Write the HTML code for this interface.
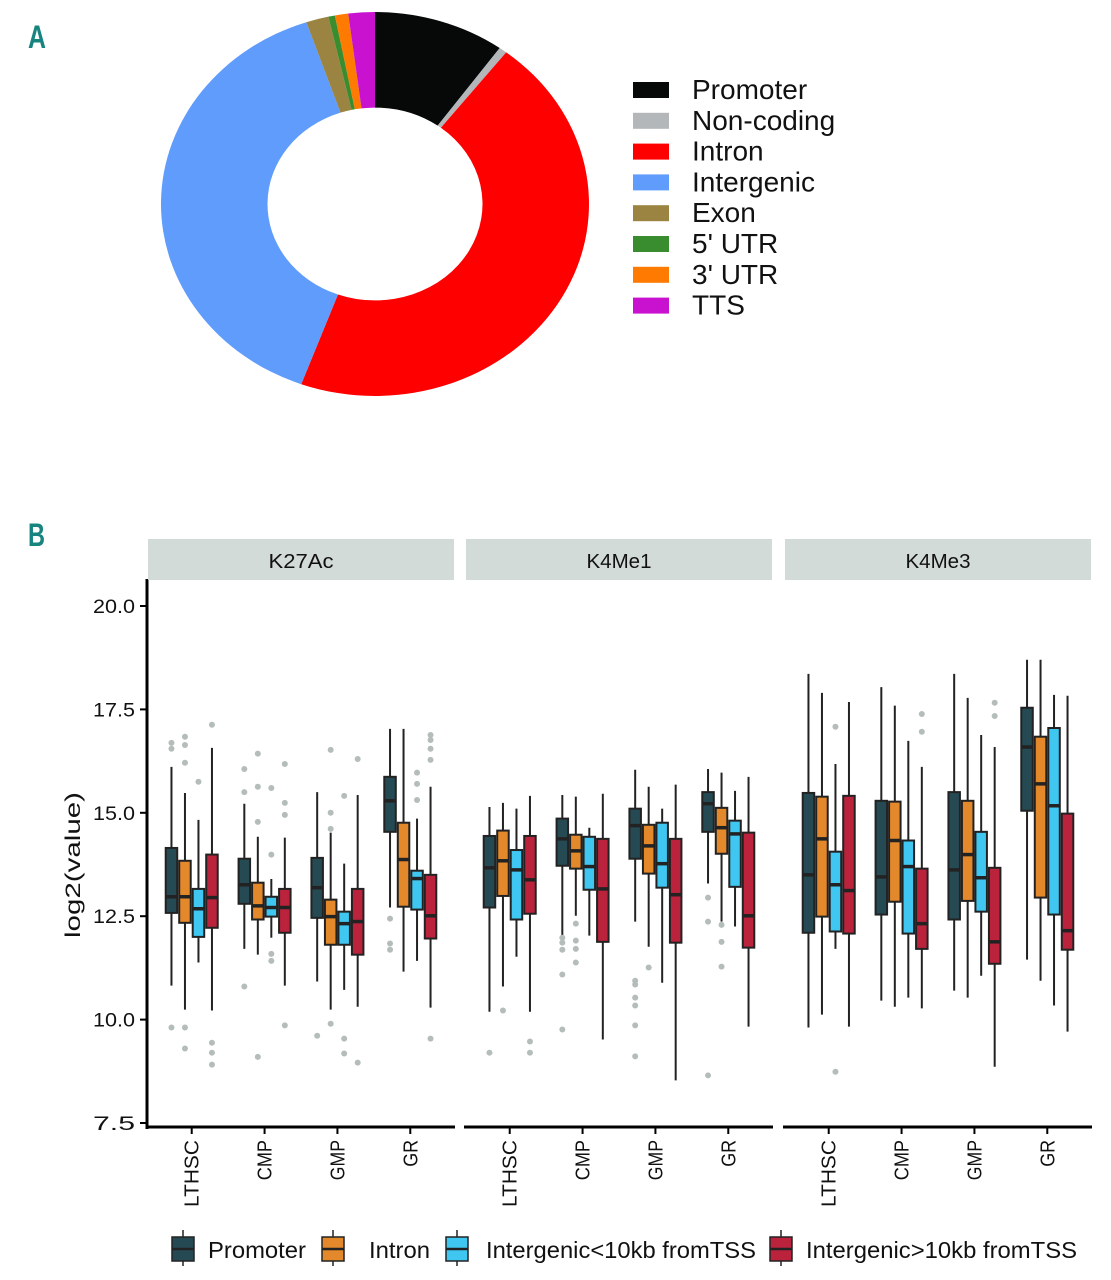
<!DOCTYPE html>
<html><head><meta charset="utf-8"><style>
body{margin:0;background:#fff;}
svg{display:block;font-family:"Liberation Sans",sans-serif;}
</style></head><body>
<svg id="chart" width="1111" height="1280" viewBox="0 0 1111 1280">
<text x="28" y="48" font-size="32" font-weight="bold" fill="#17847f" textLength="18" lengthAdjust="spacingAndGlyphs">A</text>
<text x="28" y="546" font-size="32" font-weight="bold" fill="#17847f" textLength="17" lengthAdjust="spacingAndGlyphs">B</text>
<g id="donut"></g>
<g id="pieLegend"></g>
<g id="box"></g>
<g id="boxLegend"></g>
</svg>
<script>
// ---- Donut data ----
const pieLabels = ["Promoter","Non-coding","Intron","Intergenic","Exon","5' UTR","3' UTR","TTS"];
const piePercents = [9.9,0.6,45.1,39.2,1.7,0.5,1.0,2.0];
const pieColors = ["#070808","#b3b7b9","#fe0000","#5f9cfb","#9b8441","#3a8d2f","#fe7a00","#c812d0"];

// ---- Boxplot data ----
const facets = ["K27Ac","K4Me1","K4Me3"];
const cellTypes = ["LTHSC","CMP","GMP","GR"];
const seriesNames = ["Promoter","Intron","Intergenic<10kb fromTSS","Intergenic>10kb fromTSS"];
const seriesColors = ["#264a54","#e3892b","#3fc7f2","#bb233d"];
const yTicks = [7.5,10.0,12.5,15.0,17.5,20.0];
// [low, q1, median, q3, high] indexed [facet][cell][series]
const statsK27Ac = [
 [[10.82,12.58,12.97,14.15,16.11],[10.24,12.34,12.97,13.84,15.48],[11.38,12.0,12.68,13.16,14.83],[10.22,12.22,12.95,13.99,16.57]],
 [[11.71,12.8,13.26,13.89,15.22],[11.57,12.42,12.75,13.31,14.42],[11.98,12.49,12.71,12.97,13.4],[10.82,12.1,12.71,13.16,14.4]],
 [[10.92,12.46,13.19,13.91,15.5],[10.24,11.81,12.49,12.9,14.52],[10.72,11.81,12.32,12.61,13.77],[10.31,11.57,12.37,13.16,15.43]],
 [[12.71,14.54,15.29,15.87,17.03],[11.16,12.73,13.87,14.76,17.03],[11.42,12.66,13.41,13.6,14.86],[10.29,11.96,12.51,13.5,15.63]]
];
const statsK4Me1 = [
 [[10.19,12.71,13.67,14.44,15.14],[10.8,12.99,13.84,14.57,15.24],[11.52,12.42,13.62,14.1,15.1],[10.19,12.56,13.38,14.44,15.41]],
 [[12.03,13.72,14.37,14.86,15.43],[12.51,13.65,14.08,14.47,15.39],[12.03,13.14,13.7,14.42,14.64],[9.52,11.88,13.16,14.37,15.46]],
 [[12.37,13.89,14.69,15.1,16.04],[11.76,13.53,14.2,14.71,15.63],[10.89,13.19,13.77,14.76,15.1],[8.53,11.86,13.02,14.37,15.68]],
 [[13.29,14.54,15.22,15.5,16.06],[12.37,14.01,14.64,15.12,15.97],[12.25,13.21,14.49,14.81,15.53],[9.83,11.74,12.51,14.52,15.87]]
];
const statsK4Me3 = [
 [[9.81,12.1,13.5,15.48,18.36],[10.12,12.49,14.37,15.39,17.9],[11.71,12.13,13.26,14.06,16.18],[9.83,12.08,13.12,15.41,17.68]],
 [[10.46,12.54,13.45,15.29,18.04],[10.31,12.85,14.33,15.27,17.59],[10.53,12.08,13.7,14.33,16.74],[10.27,11.71,12.32,13.65,16.11]],
 [[10.7,12.42,13.62,15.5,18.36],[10.53,12.87,13.99,15.29,17.78],[11.06,12.61,13.43,14.54,16.88],[8.86,11.35,11.88,13.67,16.59]],
 [[11.45,15.05,16.59,17.54,18.7],[10.94,12.95,15.7,16.84,18.7],[10.34,12.54,15.17,17.05,17.85],[9.71,11.69,12.15,14.98,17.83]]
];
// outliers [facet][cell][series] -> values
const outK27Ac = [
 [[16.69,16.55,9.81],[16.84,16.64,16.21,9.81,9.3],[15.75],[17.13,9.44,9.2,8.91]],
 [[16.06,15.5,10.8],[16.43,15.63,14.78,9.1],[15.6,13.99,11.59,11.42],[16.18,15.24,14.95,9.86]],
 [[9.61],[16.52,15.0,14.61,9.9],[15.41,9.54,9.18],[16.3,8.96]],
 [[12.44,11.84,11.69],[],[15.97,15.7,15.31],[16.88,16.76,16.55,16.28,9.54]]
];
const outK4Me1 = [
 [[9.2],[10.22],[],[9.47,9.2]],
 [[11.98,11.86,11.69,11.09,9.76],[12.32,11.91,11.71,11.38],[],[]],
 [[10.94,10.85,10.53,10.34,9.86,9.11],[11.26],[],[]],
 [[12.95,12.37,8.65],[12.29,11.88,11.28],[],[]]
];
const outK4Me3 = [
 [[],[],[17.08,8.74],[]],
 [[],[],[],[17.39,16.96]],
 [[],[],[],[17.66,17.34]],
 [[],[],[],[]]
];
const allStats=[statsK27Ac,statsK4Me1,statsK4Me3];
const allOut=[outK27Ac,outK4Me1,outK4Me3];

const NS="http://www.w3.org/2000/svg";
function mk(tag,attrs,parent){const e=document.createElementNS(NS,tag);for(const k in attrs)e.setAttribute(k,attrs[k]);if(parent)parent.appendChild(e);return e;}

// ---- Donut ----
(function(){
 const g=document.getElementById('donut');
 const cx=375,cy=204,R=214,r=107.5,sy=0.897;
 const gs=mk('g',{transform:`translate(${cx},${cy}) scale(1,${sy})`},g);
 let a0=0;
 const tot=piePercents.reduce((a,b)=>a+b,0);
 piePercents.forEach((p,i)=>{
  const a1=a0+p/tot*2*Math.PI;
  const pt=(rad,a)=>[rad*Math.sin(a),-rad*Math.cos(a)];
  const [x1,y1]=pt(R,a0),[x2,y2]=pt(R,a1),[x3,y3]=pt(r,a1),[x4,y4]=pt(r,a0);
  const lg=(a1-a0)>Math.PI?1:0;
  const p_=mk('path',{d:`M${x1},${y1}A${R},${R} 0 ${lg} 1 ${x2},${y2}L${x3},${y3}A${r},${r} 0 ${lg} 0 ${x4},${y4}Z`,fill:pieColors[i]},gs);
  
  
  a0=a1;
 });
 const lgG=document.getElementById('pieLegend');
 pieLabels.forEach((l,i)=>{
  const y=90+i*30.8;
  const it=mk('g',{},lgG);
  
  
  mk('rect',{x:633,y:y-8,width:36,height:16,fill:pieColors[i]},it);
  const t=mk('text',{x:692,y:y+9,'font-size':28,fill:'#111'},it);
  t.textContent=l;
 });
})();

// ---- Boxplots ----
(function(){
 const g=document.getElementById('box');
 const yT=606,yB=1123;
 const y=v=>yT+(20-v)*(yB-yT)/12.5;
 const panelL=[148,466,785], pw=306;
 const unit=pw/4.2;
 const ax=mk('g',{},g);
 
 
 mk('line',{x1:147,y1:579,x2:147,y2:1129,stroke:'#000','stroke-width':3},ax);
 yTicks.forEach(v=>{
  mk('line',{x1:140,y1:y(v),x2:147,y2:y(v),stroke:'#000','stroke-width':2},ax);
  const t=mk('text',{x:135,y:y(v)+7,'font-size':19,'text-anchor':'end',fill:'#111',textLength:42,lengthAdjust:'spacingAndGlyphs'},ax);
  t.textContent=v.toFixed(1);
 });
 const yt=mk('text',{x:80,y:865,'font-size':21,'text-anchor':'middle',fill:'#111',transform:'rotate(-90 80 865)',textLength:146,lengthAdjust:'spacingAndGlyphs'},g);
 yt.textContent='log2(value)';
 
 
 facets.forEach((f,fi)=>{
  const L=panelL[fi];
  const strip=mk('g',{},g);
  
  
  mk('rect',{x:L,y:539,width:pw,height:41,fill:'#d3dbd8'},strip);
  const st=mk('text',{x:L+pw/2,y:568,'font-size':20,'text-anchor':'middle',fill:'#111',textLength:f.length*13,lengthAdjust:'spacingAndGlyphs'},strip);
  st.textContent=f;
  const xa=mk('g',{},g);
  
  
  mk('line',{x1:L-2,y1:1127,x2:L+pw+1,y2:1127,stroke:'#000','stroke-width':3},xa);
  cellTypes.forEach((c,ci)=>{
   const cx=L+unit*(0.6+ci);
   mk('line',{x1:cx,y1:1127,x2:cx,y2:1134,stroke:'#000','stroke-width':2},xa);
   const t=mk('text',{x:cx+7,y:1140,'font-size':20,'text-anchor':'end',fill:'#111',transform:`rotate(-90 ${cx+7} 1140)`,textLength:c.length*13.4,lengthAdjust:'spacingAndGlyphs'},xa);
   t.textContent=c;
   const bw=13.5;
   seriesNames.forEach((s,si)=>{
    const st_=allStats[fi][ci][si];
    const bx=cx+(si-1.5)*bw;
    const bg=mk('g',{},g);
    
    
    mk('line',{x1:bx,y1:y(st_[4]),x2:bx,y2:y(st_[0]),stroke:'#222','stroke-width':2},bg);
    mk('rect',{x:bx-bw/2+1,y:y(st_[3]),width:bw-2,height:y(st_[1])-y(st_[3]),fill:seriesColors[si],stroke:'#222','stroke-width':2},bg);
    mk('line',{x1:bx-bw/2+1,y1:y(st_[2]),x2:bx+bw/2-1,y2:y(st_[2]),stroke:'#222','stroke-width':3.5},bg);
    allOut[fi][ci][si].forEach(v=>{
     const d=mk('circle',{cx:bx,cy:y(v),r:3,fill:'#b5bdba'},bg);
     
     
    });
   });
  });
 });
 const lg=document.getElementById('boxLegend');
 const xs=[172,322,446,770], tx=[208,369,486,806], tw=[98,61,270,271];
 seriesNames.forEach((s,si)=>{
  const it=mk('g',{},lg);
  
  
  const x=xs[si];
  mk('line',{x1:x+11,y1:1230,x2:x+11,y2:1266,stroke:'#222','stroke-width':1.5},it);
  mk('rect',{x:x,y:1237,width:22,height:24,fill:seriesColors[si],stroke:'#222','stroke-width':1.5},it);
  mk('line',{x1:x,y1:1249,x2:x+22,y2:1249,stroke:'#222','stroke-width':2.5},it);
  const t=mk('text',{x:tx[si],y:1258,'font-size':23,fill:'#111',textLength:tw[si],lengthAdjust:'spacingAndGlyphs'},it);
  t.textContent=s;
 });
})();
</script>
</body></html>
